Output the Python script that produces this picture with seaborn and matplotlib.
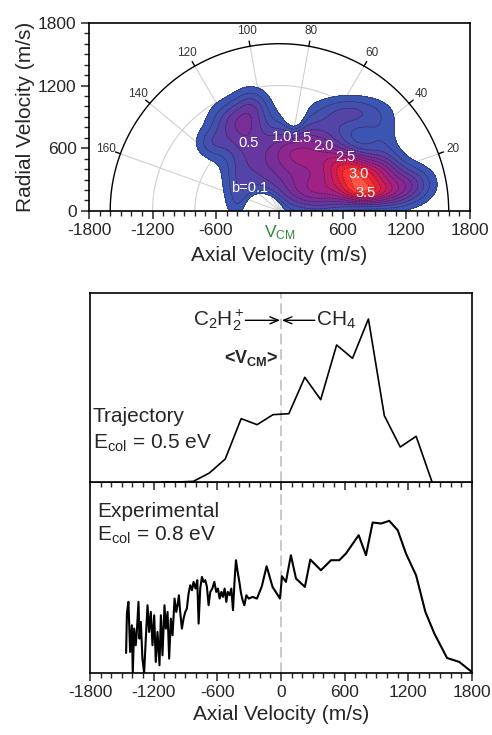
import numpy as np
import matplotlib
matplotlib.use('Agg')
import matplotlib.pyplot as plt
import seaborn as sns
from matplotlib.ticker import MultipleLocator

sns.set_style('ticks')
plt.rcParams['font.family'] = ['Liberation Sans', 'DejaVu Sans']
plt.rcParams['mathtext.fontset'] = 'custom'
plt.rcParams['mathtext.rm'] = 'Liberation Sans'
plt.rcParams['mathtext.it'] = 'Liberation Sans:italic'
plt.rcParams['mathtext.bf'] = 'Liberation Sans:bold'
plt.rcParams['axes.unicode_minus'] = False

# ---- velocity map: lumps of the flux distribution (axial, radial, width x, width y, height)
blob_x = [-390, -640, -330, -260, -480, -150, 100, 380, 680, 960, 1250, 730, 800, 350, 1050, 1000,
          250, 600, -150, 140]
blob_y = [150, 650, 780, 1010, 880, 420, 620, 620, 940, 680, 260, 340, 170, 170, 170, 380,
          400, 480, 0, 1000]
blob_sx = [90, 110, 180, 110, 140, 220, 150, 200, 230, 120, 150, 180, 150, 250, 150, 140,
           200, 150, 90, 60]
blob_sy = [220, 100, 180, 120, 120, 200, 150, 180, 110, 170, 120, 120, 80, 130, 100, 130,
           150, 100, 90, 160]
blob_amp = [0.18, 0.2, 0.38, 0.22, 0.15, 0.35, 0.3, 0.45, 0.3, 0.15, 0.35, 0.9, 0.6, 0.55, 0.35, 0.3,
            0.25, 0.3, -0.8, -0.4]

map_levels = [0.1, 0.2, 0.3, 0.4, 0.5, 0.6, 0.7, 0.8, 0.9, 1.0, 1.1, 1.2]
map_colors = ['#3d55b2', '#4450ae', '#5444a8', '#66389f', '#782e98', '#8c2690',
              '#a02284', '#b81e70', '#d01c55', '#e8203c', '#ff3030', '#ff5545']

b_labels = ['b=0.1', '0.5', '1.0', '1.5', '2.0', '2.5', '3.0', '3.5']
b_label_x = [-279, -288, 20, 210, 414, 619, 751, 814]
b_label_y = [217, 648, 712, 696, 626, 514, 357, 175]

angle_ticks = [20, 40, 60, 80, 100, 120, 140, 160]
grid_radii = [400, 800, 1200]
sphere_r = 1600

# ---- trajectory axial distribution
traj_v = [-1125, -975, -825, -675, -525, -375, -225, -75, 75, 225, 375, 525,
          675, 825, 975, 1125, 1275, 1425]
traj_counts = [0, 0, 2, 27, 69, 190, 172, 202, 205, 314, 247, 411, 371, 489,
               199, 105, 137, 0]

# ---- experimental axial distribution
exp_v = [-1460, -1452, -1438, -1422, -1406, -1397, -1384, -1369, -1359, -1343,
         -1334, -1321, -1306, -1290, -1274, -1258, -1243, -1227, -1211, -1195,
         -1180, -1164, -1145, -1132, -1117, -1098, -1085, -1069, -1054, -1038,
         -1022, -1003, -987, -975, -962, -950, -934, -918, -902, -887, -871,
         -855, -839, -824, -805, -789, -776, -761, -745, -729, -713, -698,
         -682, -666, -647, -628, -610, -594, -578, -562, -547, -531, -515,
         -502, -483, -468, -452, -436, -424, -408, -392, -376, -361, -345,
         -326, -304, -267, -226, -180, -135, -79, -9, 10, 47, 94, 142, 226,
         277, 377, 472, 550, 613, 733, 802, 865, 943, 1022, 1101, 1179, 1274,
         1362, 1447, 1566, 1682, 1800]
exp_counts = [60, 180, 213, 63, 143, 0, 133, 83, 123, 213, 103, 153, 43, 0,
              103, 203, 123, 183, 83, 173, 33, 123, 23, 173, 53, 203, 133, 183,
              43, 163, 113, 223, 183, 203, 233, 183, 133, 163, 183, 193, 238,
              263, 248, 273, 253, 278, 148, 253, 288, 273, 278, 258, 203, 243,
              253, 273, 243, 253, 223, 243, 228, 253, 213, 243, 233, 253, 188,
              283, 338, 303, 273, 238, 218, 203, 233, 223, 228, 223, 260, 320,
              258, 223, 290, 273, 353, 283, 258, 340, 308, 338, 338, 358, 413,
              353, 451, 448, 456, 428, 358, 293, 183, 118, 45, 33, 3]

vel_ticks = [-1800, -1200, -600, 0, 600, 1200, 1800]

fig = plt.figure(figsize=(4.92, 7.35), dpi=100)
ax_exp = fig.add_axes([0.183, 0.0844, 0.776, 0.2596])
ax_traj = fig.add_axes([0.183, 0.3442, 0.776, 0.2572])
ax_map = fig.add_axes([0.181, 0.713, 0.774, 0.256])

# ---------------- top: velocity map
gx = np.linspace(-1800, 1800, 361)
gy = np.linspace(0, 1800, 181)
X, Y = np.meshgrid(gx, gy)
Z = np.zeros_like(X)
for cx, cy, sx, sy, a in zip(blob_x, blob_y, blob_sx, blob_sy, blob_amp):
    Z += a * np.exp(-((X - cx) ** 2 / (2 * sx ** 2) + (Y - cy) ** 2 / (2 * sy ** 2)))
Z[np.hypot(X, Y) > sphere_r - 10] = np.nan

th = np.linspace(0, np.pi, 300)
for r in grid_radii:
    ax_map.plot(r * np.cos(th), r * np.sin(th), color='#d0d0d0', lw=0.8, zorder=1)
for a in angle_ticks:
    t = np.radians(a)
    ax_map.plot([0, sphere_r * np.cos(t)], [0, sphere_r * np.sin(t)],
                color='#d0d0d0', lw=0.8, zorder=1)
    ax_map.plot([sphere_r * np.cos(t), 1650 * np.cos(t)],
                [sphere_r * np.sin(t), 1650 * np.sin(t)], color='k', lw=1, zorder=4)
    ax_map.text(1745 * np.cos(t), 1745 * np.sin(t), str(a), ha='center',
                va='center', fontsize=8.5, color='#333333')
ax_map.plot(sphere_r * np.cos(th), sphere_r * np.sin(th), color='k', lw=1, zorder=4)

cf = ax_map.contourf(X, Y, Z, levels=map_levels, colors=map_colors[:-1],
                     extend='max', zorder=2)
cf.cmap.set_over(map_colors[-1])
cf.changed()
ax_map.contour(X, Y, Z, levels=map_levels, colors='#1a1a2a', linewidths=0.5,
               linestyles=[(0, (3, 1))], alpha=0.65, zorder=3)
for s, lx, ly in zip(b_labels, b_label_x, b_label_y):
    ax_map.text(lx, ly, s, color='white', fontsize=10.5, ha='center',
                va='center', zorder=5)

ax_map.set_xlim(-1800, 1800)
ax_map.set_ylim(0, 1800)
ax_map.set_xticks(vel_ticks)
ax_map.set_xticklabels(['-1800', '-1200', '-600', r'V$_{\rm CM}$', '600', '1200', '1800'])
ax_map.get_xticklabels()[3].set_color('#2e8b3a')
ax_map.set_yticks([0, 600, 1200, 1800])
ax_map.xaxis.set_minor_locator(MultipleLocator(100))
ax_map.yaxis.set_minor_locator(MultipleLocator(100))
ax_map.set_xlabel('Axial Velocity (m/s)', fontsize=15, labelpad=3)
ax_map.set_ylabel('Radial Velocity (m/s)', fontsize=15, labelpad=2)

# ---------------- bottom: axial distributions
for ax in (ax_traj, ax_exp):
    ax.axvline(0, color='#bbbbbb', lw=1.1, ls=(0, (7, 3)), zorder=1)
    ax.set_xlim(-1800, 1800)
    ax.set_xticks(vel_ticks)
    ax.xaxis.set_minor_locator(MultipleLocator(100))
    ax.set_yticks([])

sns.lineplot(x=traj_v, y=traj_counts, ax=ax_traj, color='k', lw=1.2,
             sort=False, estimator=None)
sns.lineplot(x=exp_v, y=exp_counts, ax=ax_exp, color='k', lw=1.5,
             sort=False, estimator=None)
ax_traj.set_ylim(0, 567)
ax_exp.set_ylim(0, 572)
ax_traj.set_xticklabels([])
ax_exp.set_xlabel('Axial Velocity (m/s)', fontsize=15, labelpad=3)

ax_traj.text(-1775, 197, 'Trajectory', fontsize=15, va='center')
ax_traj.text(-1775, 117, r'E$_{\rm col}$ = 0.5 eV', fontsize=15, va='center')
ax_traj.text(-345, 485, r'C$_2$H$_2^+$', fontsize=15, ha='right', va='center')
ax_traj.text(330, 485, r'CH$_4$', fontsize=15, ha='left', va='center')
ax_traj.annotate('', xy=(-8, 485), xytext=(-335, 485),
                 arrowprops=dict(arrowstyle='->,head_length=0.6,head_width=0.25',
                                 color='k', lw=1, shrinkA=0, shrinkB=0))
ax_traj.annotate('', xy=(8, 485), xytext=(320, 485),
                 arrowprops=dict(arrowstyle='->,head_length=0.6,head_width=0.25',
                                 color='k', lw=1, shrinkA=0, shrinkB=0))
ax_traj.text(-277, 372, r'<V$_{\mathbf{CM}}$>', fontsize=13, fontweight='bold',
             ha='center', va='center')

ax_exp.text(-1730, 483, 'Experimental', fontsize=15, va='center')
ax_exp.text(-1730, 413, r'E$_{\rm col}$ = 0.8 eV', fontsize=15, va='center')

for ax in (ax_map, ax_traj, ax_exp):
    for sp in ax.spines.values():
        sp.set_linewidth(1.2)
        sp.set_color('k')
    ax.tick_params(which='major', direction='out', length=6, width=1.1,
                   labelsize=12.5, pad=3, top=False, right=False)
    ax.tick_params(which='minor', direction='out', length=3.5, width=1,
                   top=False, right=False)
ax_traj.tick_params(which='both', left=False)
ax_exp.tick_params(which='both', left=False)

fig.savefig('out.png', dpi=100)
